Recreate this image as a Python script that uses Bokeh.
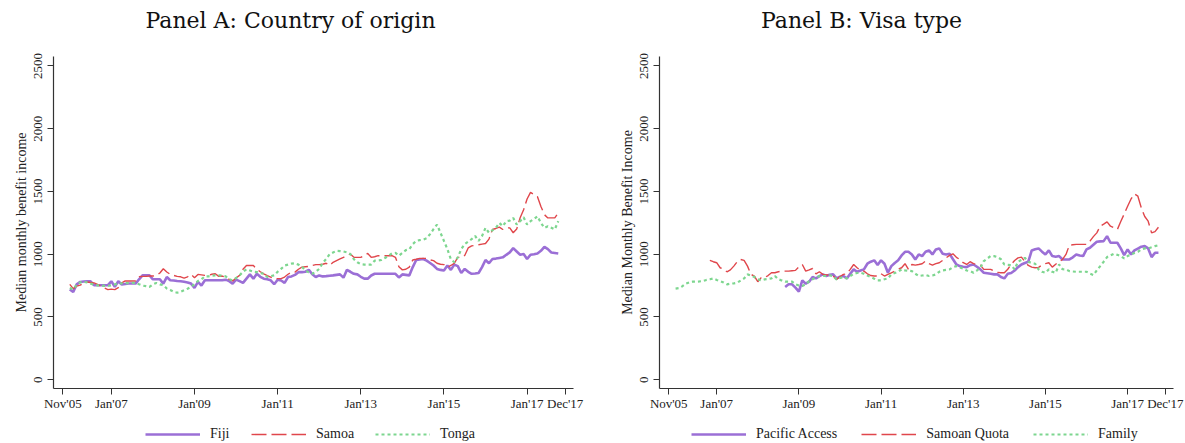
from bokeh.plotting import figure
from bokeh.layouts import row, column
from bokeh.models import FixedTicker, Legend, LegendItem, Range1d, Label
from bokeh.embed import file_html
from bokeh.resources import INLINE

# ---------------- data ----------------
tick_months = [0, 14, 38, 62, 86, 110, 134, 145]
tick_labels = ["Nov'05", "Jan'07", "Jan'09", "Jan'11", "Jan'13", "Jan'15", "Jan'17", "Dec'17"]
y_ticks = [0, 500, 1000, 1500, 2000, 2500]

# Panel A: Country of origin (monthly, starting Jan 2006)
fiji_start = "2006-01"
fiji = [720, 700, 760, 779, 782, 784, 784, 753, 753, 753,
        753, 753, 784, 740, 784, 758, 762, 766, 766, 766,
        800, 832, 832, 832, 800, 800, 800, 766, 818, 792,
        790, 786, 784, 780, 775, 766, 732, 779, 750, 792,
        792, 792, 792, 792, 792, 797, 785, 766, 797, 785,
        771, 805, 839, 805, 844, 820, 805, 800, 792, 761,
        797, 790, 771, 818, 823, 835, 857, 857, 860, 875,
        840, 818, 831, 823, 825, 828, 831, 835, 839, 813,
        875, 860, 844, 839, 820, 805, 805, 830, 844, 844,
        844, 844, 844, 844, 844, 815, 839, 835, 831, 897,
        954, 958, 962, 949, 930, 910, 883, 875, 870, 910,
        875, 917, 905, 850, 883, 860, 844, 846, 850, 897,
        954, 928, 962, 965, 970, 975, 995, 1014, 1048, 1022,
        996, 1001, 962, 996, 1000, 1006, 1027, 1058, 1040, 1014,
        1010, 1006]

samoa_start = "2006-01"
samoa = [760, 726, 745, 753, 770, 779, 775, 771, 760, 745,
         730, 718, 722, 718, 734, 771, 787, 787, 787, 787,
         820, 823, 823, 826, 826, 831, 850, 884, 858, 840,
         831, 823, 820, 810, 820, 839, 813, 839, 835, 831,
         832, 840, 844, 823, 826, 815, 800, 787, 810, 831,
         880, 910, 910, 910, 880, 860, 844, 830, 818, 805,
         805, 805, 818, 840, 857, 857, 880, 897, 900, 902,
         910, 917, 917, 920, 928, 910, 935, 949, 962, 975,
         990, 1001, 975, 975, 975, 990, 1006, 975, 980, 988,
         988, 988, 988, 988, 975, 900, 875, 880, 897, 954,
         960, 967, 967, 967, 955, 949, 928, 920, 917, 897,
         910, 928, 975, 975, 990, 1050, 1066, 1070, 1075, 1080,
         1085, 1120, 1197, 1205, 1215, 1197, 1210, 1210, 1171, 1200,
         1290, 1354, 1440, 1493, 1475, 1458, 1380, 1315, 1289, 1289,
         1289, 1328]

tonga_start = "2006-01"
tonga = [730, 720, 755, 775, 780, 775, 765, 758, 752, 750,
         748, 748, 752, 760, 765, 768, 770, 770, 772, 771,
         760, 750, 745, 739, 760, 771, 760, 753, 727, 715,
         700, 693, 700, 713, 725, 740, 760, 787, 800, 823,
         823, 828, 831, 831, 828, 823, 800, 792, 810, 831,
         860, 880, 870, 860, 857, 850, 844, 818, 825, 831,
         860, 883, 910, 917, 925, 928, 917, 900, 870, 855,
         844, 860, 883, 930, 962, 1000, 1014, 1027, 1025, 1022,
         1015, 1001, 960, 936, 920, 917, 917, 917, 949, 950,
         954, 970, 988, 1006, 1010, 988, 1010, 1032, 1040, 1080,
         1106, 1112, 1116, 1127, 1160, 1200, 1236, 1171, 1106, 1040,
         960, 936, 975, 1040, 1080, 1100, 1120, 1145, 1106, 1145,
         1210, 1171, 1190, 1210, 1249, 1223, 1263, 1268, 1289, 1236,
         1263, 1294, 1236, 1263, 1280, 1302, 1249, 1210, 1223, 1210,
         1197, 1263]

# Panel B: Visa type
pacific_start = "2008-09"
pacific_access = [739, 760, 760, 734, 702, 791, 765, 781,
                  818, 807, 825, 839, 826, 836, 839, 807, 820, 826,
                  807, 844, 879, 860, 870, 879, 924, 940, 951, 913,
                  951, 924, 852, 905, 930, 951, 990, 1019, 1019, 998,
                  958, 998, 985, 1019, 1030, 998, 1038, 1046, 1003, 998,
                  1003, 960, 918, 905, 900, 897, 913, 918, 900, 879,
                  852, 848, 844, 839, 839, 818, 807, 844, 850, 870,
                  897, 918, 930, 940, 1030, 1040, 1046, 1020, 998, 1030,
                  985, 980, 985, 958, 958, 958, 975, 998, 990, 985,
                  1038, 1051, 1075, 1099, 1102, 1104, 1144, 1091, 1091, 1091,
                  1046, 993, 1038, 998, 1030, 1045, 1060, 1064, 1046, 977,
                  1011, 1011]

quota_start = "2006-11"
samoan_quota = [951, 940, 932, 892, 879, 860, 875, 905, 940, 958,
                951, 905, 839, 826, 781, 813, 813, 830, 852, 852,
                860, 865, 865, 865, 868, 871, 900, 918, 865, 875,
                886, 844, 860, 839, 836, 834, 826, 799, 820, 839,
                844, 879, 918, 892, 870, 865, 844, 830, 826, 826,
                844, 826, 840, 852, 865, 880, 892, 924, 879, 918,
                913, 918, 924, 945, 925, 913, 925, 932, 951, 971,
                990, 1003, 975, 958, 932, 918, 940, 925, 918, 913,
                879, 879, 879, 865, 855, 852, 852, 880, 918, 950,
                971, 977, 940, 910, 897, 892, 895, 913, 925, 932,
                897, 920, 940, 958, 998, 1072, 1075, 1078, 1078, 1078,
                1078, 1104, 1140, 1170, 1223, 1240, 1258, 1223, 1210, 1197,
                1260, 1320, 1382, 1440, 1480, 1462, 1369, 1300, 1263, 1170,
                1180, 1215]

family_start = "2006-01"
family = [726, 730, 745, 765, 775, 781, 781, 783, 786, 795,
          800, 807, 795, 785, 775, 760, 765, 768, 773, 790,
          807, 839, 830, 818, 800, 791, 799, 803, 807, 826,
          800, 791, 781, 781, 781, 760, 750, 747, 760, 785,
          800, 813, 826, 826, 828, 831, 826, 799, 810, 818,
          807, 825, 844, 850, 852, 844, 830, 818, 805, 791,
          791, 800, 807, 839, 850, 860, 879, 871, 868, 865,
          844, 826, 830, 834, 826, 830, 839, 860, 871, 875,
          879, 897, 905, 895, 886, 870, 865, 852, 870, 892,
          945, 965, 985, 985, 977, 960, 918, 915, 913, 879,
          940, 955, 971, 940, 930, 924, 879, 860, 852, 879,
          860, 852, 918, 880, 879, 865, 862, 860, 860, 860,
          860, 845, 834, 871, 905, 940, 977, 990, 1003, 995,
          985, 966, 985, 998, 1010, 1019, 1038, 1046, 1046, 1055,
          1064, 1072]

PURPLE = "#9B6FD6"
RED = "#E0464B"
GREEN = "#7DD68F"
FONT = "Liberation Serif"
TITLE_FONT = "DejaVu Serif"
TXT = "#222222"


def month_index(label):
    y, m = map(int, label.split("-"))
    return (y - 2005) * 12 + (m - 11)


def xs(start, vals):
    s = month_index(start)
    return list(range(s, s + len(vals)))


STYLES = [(PURPLE, "solid", 2.6), (RED, "15 5", 1.4), (GREEN, "3 3", 2.2)]


def blank_strip(width, height):
    f = figure(width=width, height=height, output_backend="svg", toolbar_location=None,
               x_range=Range1d(0, 1), y_range=Range1d(0, 1),
               x_axis_location=None, y_axis_location=None, min_border=0)
    f.outline_line_color = None
    f.grid.visible = False
    return f


def make_title(text, width, cx):
    t = blank_strip(width, 40)
    t.add_layout(Label(x=cx, y=20, x_units="screen", y_units="screen", text=text,
                       text_align="center", text_baseline="middle",
                       text_font=TITLE_FONT, text_font_size="22px",
                       text_color="#111111"))
    return t


def make_panel(ylabel, width, bl, br, bt, bb, series):
    p = figure(width=width, height=373, output_backend="svg", toolbar_location=None,
               x_range=Range1d(-2.7, 147.4), y_range=Range1d(-70, 2575),
               min_border_left=bl, min_border_right=br, min_border_top=bt,
               min_border_bottom=bb)
    p.outline_line_color = None
    p.grid.visible = False

    xa = p.xaxis[0]
    xa.ticker = FixedTicker(ticks=tick_months)
    xa.major_label_overrides = {m: l for m, l in zip(tick_months, tick_labels)}
    ya = p.yaxis[0]
    ya.ticker = FixedTicker(ticks=y_ticks)
    ya.major_label_orientation = "vertical"
    ya.axis_label = ylabel
    ya.axis_label_standoff = 3
    for ax in (xa, ya):
        ax.axis_line_color = "#333333"
        ax.axis_line_width = 1.2
        ax.major_tick_line_color = "#333333"
        ax.major_tick_out = 6
        ax.major_tick_in = 0
        ax.minor_tick_line_color = None
        ax.major_label_text_font = FONT
        ax.major_label_text_font_size = "13px"
        ax.major_label_text_color = TXT
        ax.axis_label_text_font = FONT
        ax.axis_label_text_font_size = "14px"
        ax.axis_label_text_font_style = "normal"
        ax.axis_label_text_color = TXT
    xa.major_label_standoff = 1
    ya.major_label_standoff = 5

    for (name, start, vals), (color, dash, lw) in zip(series, STYLES):
        p.line(xs(start, vals), vals, line_color=color, line_dash=dash, line_width=lw)
    return p


def make_legend(names, width, x0, spacing):
    lf = blank_strip(width, 30)
    items = []
    for name, (color, dash, lw) in zip(names, STYLES):
        # legend-only sample line, placed outside the visible range
        r = lf.line([5, 6], [5, 6], line_color=color, line_dash=dash, line_width=lw)
        items.append(LegendItem(label=name, renderers=[r]))
    leg = Legend(items=items, orientation="horizontal", location=(x0, 1),
                 glyph_width=55, glyph_height=16, label_height=16,
                 label_standoff=10, spacing=spacing, padding=0, margin=0,
                 border_line_color=None, background_fill_alpha=0,
                 label_text_font=FONT, label_text_font_size="14px",
                 label_text_color=TXT)
    lf.add_layout(leg, "center")
    return lf


tA = make_title("Panel A: Country of origin", 600, 290)
tB = make_title("Panel B: Visa type", 585, 261)

pA = make_panel("Median monthly benefit income", 600, 53, 27, 12, 25,
                [("Fiji", fiji_start, fiji),
                 ("Samoa", samoa_start, samoa),
                 ("Tonga", tonga_start, tonga)])

pB = make_panel("Median Monthly Benefit Income", 585, 59, 12, 16, 23,
                [("Pacific Access", pacific_start, pacific_access),
                 ("Samoan Quota", quota_start, samoan_quota),
                 ("Family", family_start, family)])

lA = make_legend(["Fiji", "Samoa", "Tonga"], 600, 145, 21)
lB = make_legend(["Pacific Access", "Samoan Quota", "Family"], 585, 91, 24)

layout = column(row(tA, tB), row(pA, pB), row(lA, lB))
open("out.html", "w").write(file_html(layout, INLINE))
